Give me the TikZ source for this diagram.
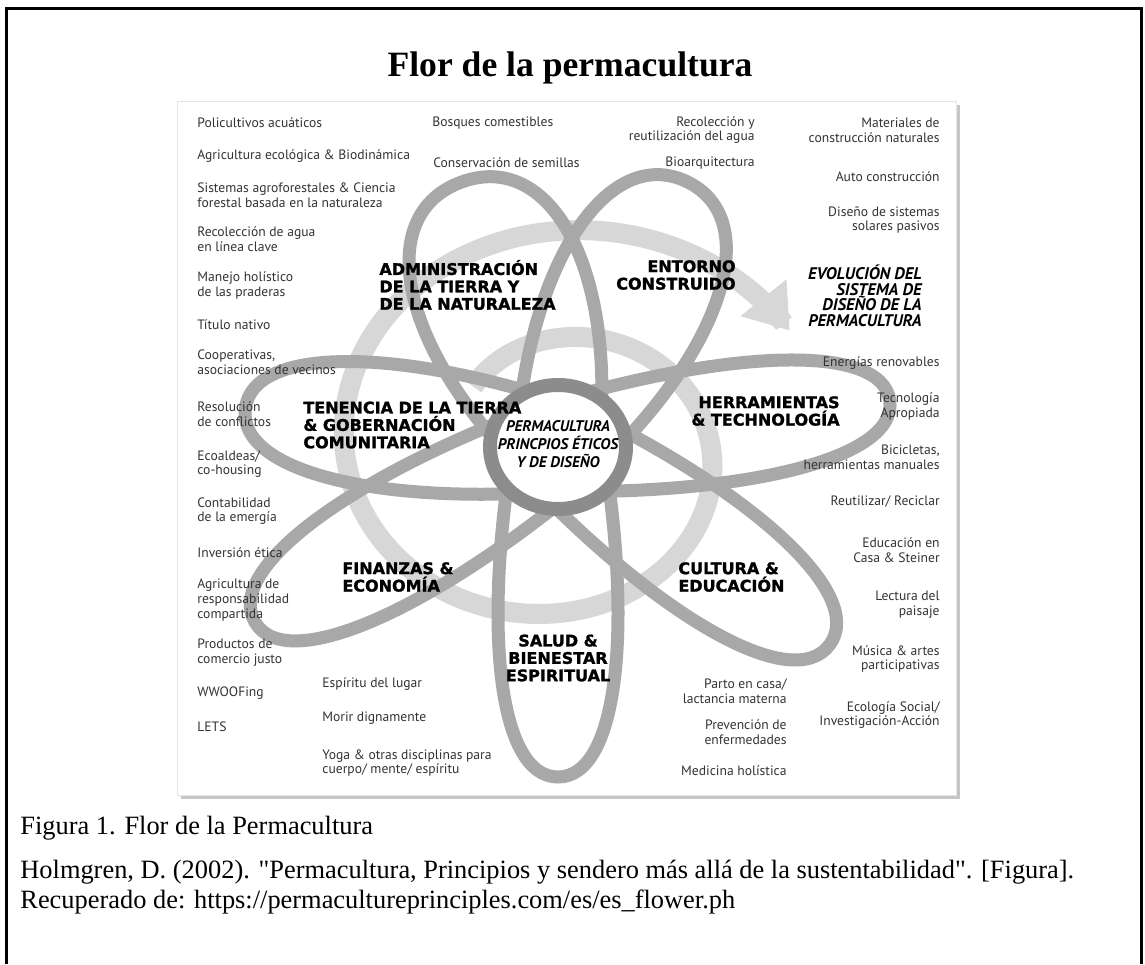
\documentclass[tikz,border=0pt]{standalone}
\usepackage{fontspec}
\setmainfont{Liberation Serif}
\newfontfamily\labelfont{PT Sans}
\newfontfamily\catfont{DejaVu Sans}[BoldFeatures={FakeBold=1.4}]
\usetikzlibrary{arrows.meta,shadows}
\definecolor{petalgray}{HTML}{A8A8A8}
\definecolor{hubgray}{HTML}{8C8C8C}
\definecolor{pathgray}{HTML}{D7D7D7}
\definecolor{itemgray}{HTML}{333333}

\begin{document}
\begin{tikzpicture}[x=0.5pt, y=-0.5pt,
    item/.style={font=\labelfont\fontsize{6.8}{7.4}\selectfont, text=itemgray, inner sep=0pt},
    itemL/.style={item, anchor=west, align=left},
    itemR/.style={item, anchor=east, align=right},
    cat/.style={font=\catfont\bfseries\fontsize{8}{8.7}\selectfont, inner sep=0pt},
    hub/.style={font=\labelfont\bfseries\itshape\fontsize{7.7}{9}\selectfont, inner sep=0pt},
    evol/.style={font=\labelfont\bfseries\itshape\fontsize{8.4}{7.8}\selectfont, inner sep=0pt},
    petal/.style={draw=petalgray, line width=6.5pt},
    evolpath/.style={draw=pathgray, line width=10pt},
    caption/.style={font=\fontsize{13.2}{14.8}\selectfont, inner sep=0pt, anchor=west, align=left}]

    \useasboundingbox (0,0) rectangle (1145,964);
    \draw[line width=1.5pt] (6,964) -- (6,8) -- (1141,8) -- (1141,964);

    \node[font=\bfseries\fontsize{17.8}{20}\selectfont, inner sep=0pt] (0) at (570,68) {Flor de la permacultura};

    \draw[draw=black!10, fill=white, drop shadow={shadow xshift=2pt, shadow yshift=-2pt, opacity=0.45}] (177,101) rectangle (956,795);

    \draw[evolpath, -{Triangle[width=28pt, length=21pt]}] plot[domain=-50:420, samples=160, smooth, variable=\t] ({558+1.12*(112+0.27*\t+0.00008*\t*\t)*cos(90-\t)}, {450-(112+0.27*\t+0.00008*\t*\t)*sin(90-\t)});

    \foreach \ang/\len/\wid in {270/330/60, 324/336/62, 8/335/58, 64/295/85, 110/282/92, 173/315/63, 210/350/62}
        \draw[petal, shift={(558,447)}, rotate=\ang] (0,-45) .. controls (0.55*\len,-1.25*\wid) and (\len,-\wid) .. (\len,0) .. controls (\len,\wid) and (0.55*\len,1.25*\wid) .. (0,45);

    \draw[draw=hubgray, line width=7pt, fill=white] (558,447) ellipse [x radius=68, y radius=62];
    \node[hub, align=center] (45) at (558,444) {PERMACULTURA\\PRINCPIOS ÉTICOS\\Y DE DISEÑO};

    \node[itemL] (1) at (197,123) {Policultivos acuáticos};
    \node[itemL] (2) at (197,156) {Agricultura ecológica \& Biodinámica};
    \node[itemL] (3) at (197,195.5) {Sistemas agroforestales \& Ciencia\\forestal basada en la naturaleza};
    \node[itemL] (4) at (197,239.5) {Recolección de agua\\en línea clave};
    \node[itemL] (5) at (197,285.5) {Manejo holístico\\de las praderas};
    \node[itemL] (6) at (197,325) {Título nativo};
    \node[itemL] (7) at (197,362.5) {Cooperativas,\\asociaciones de vecinos};
    \node[itemL] (8) at (197,414) {Resolución\\de conflictos};
    \node[itemL] (9) at (197,464) {Ecoaldeas/\\co-housing};
    \node[itemL] (10) at (197,511) {Contabilidad\\de la emergía};
    \node[itemL] (11) at (197,553) {Inversión ética};
    \node[itemL] (12) at (197,600) {Agricultura de\\responsabilidad\\compartida};
    \node[itemL] (13) at (197,652.5) {Productos de\\comercio justo};
    \node[itemL] (14) at (197,693) {WWOOFing};
    \node[itemL] (15) at (197,727) {LETS};

    \node[itemL] (16) at (432,123) {Bosques comestibles};
    \node[itemL] (17) at (433,163) {Conservación de semillas};
    \node[itemR] (18) at (755,130) {Recolección y\\reutilización del agua};
    \node[itemR] (19) at (755,163) {Bioarquitectura};

    \node[itemR] (20) at (940,130) {Materiales de\\construcción naturales};
    \node[itemR] (21) at (940,177) {Auto construcción};
    \node[itemR] (22) at (940,220) {Diseño de sistemas\\solares pasivos};
    \node[evol, anchor=east, align=right] (23) at (922,296) {EVOLUCIÓN DEL\\SISTEMA DE\\DISEÑO DE LA\\PERMACULTURA};
    \node[itemR] (24) at (940,363) {Energías renovables};
    \node[itemR] (25) at (940,406.5) {Tecnología\\Apropiada};
    \node[itemR] (26) at (940,457.5) {Bicicletas,\\herramientas manuales};
    \node[itemR] (27) at (940,502) {Reutilizar/ Reciclar};
    \node[itemR] (28) at (940,550) {Educación en\\Casa \& Steiner};
    \node[itemR] (29) at (940,604.5) {Lectura del\\paisaje};
    \node[itemR] (30) at (940,659) {Música \& artes\\participativas};
    \node[itemR] (31) at (940,715) {Ecología Social/\\Investigación-Acción};

    \node[itemL] (32) at (322,684) {Espíritu del lugar};
    \node[itemL] (33) at (322,718) {Morir dignamente};
    \node[itemL] (34) at (322,763) {Yoga \& otras disciplinas para\\cuerpo/ mente/ espíritu};
    \node[itemR] (35) at (787,691) {Parto en casa/\\lactancia materna};
    \node[itemR] (36) at (787,732) {Prevención de\\enfermedades};
    \node[itemR] (37) at (787,771) {Medicina holística};

    \node[cat, anchor=west, align=left] (38) at (379,285) {ADMINISTRACIÓN\\DE LA TIERRA Y\\DE LA NATURALEZA};
    \node[cat, anchor=east, align=right] (39) at (736,275) {ENTORNO\\CONSTRUIDO};
    \node[cat, anchor=west, align=left] (40) at (303,425) {TENENCIA DE LA TIERRA\\\& GOBERNACIÓN\\COMUNITARIA};
    \node[cat, anchor=east, align=right] (41) at (840,411) {HERRAMIENTAS\\\& TECHNOLOGÍA};
    \node[cat, anchor=west, align=left] (42) at (342,577) {FINANZAS \&\\ECONOMÍA};
    \node[cat, anchor=west, align=left] (43) at (678,577) {CULTURA \&\\EDUCACIÓN};
    \node[cat, align=center] (44) at (558,658) {SALUD \&\\BIENESTAR\\ESPIRITUAL};

    \node[caption] (46) at (20,828) {Figura 1. Flor de la Permacultura};
    \node[caption] (47) at (20,887) {Holmgren, D. (2002). \textquotedbl Permacultura, Principios y sendero más allá de la sustentabilidad\textquotedbl . [Figura].\\Recuperado de: https://permacultureprinciples.com/es/es\_flower.ph};

\end{tikzpicture}
\end{document}
